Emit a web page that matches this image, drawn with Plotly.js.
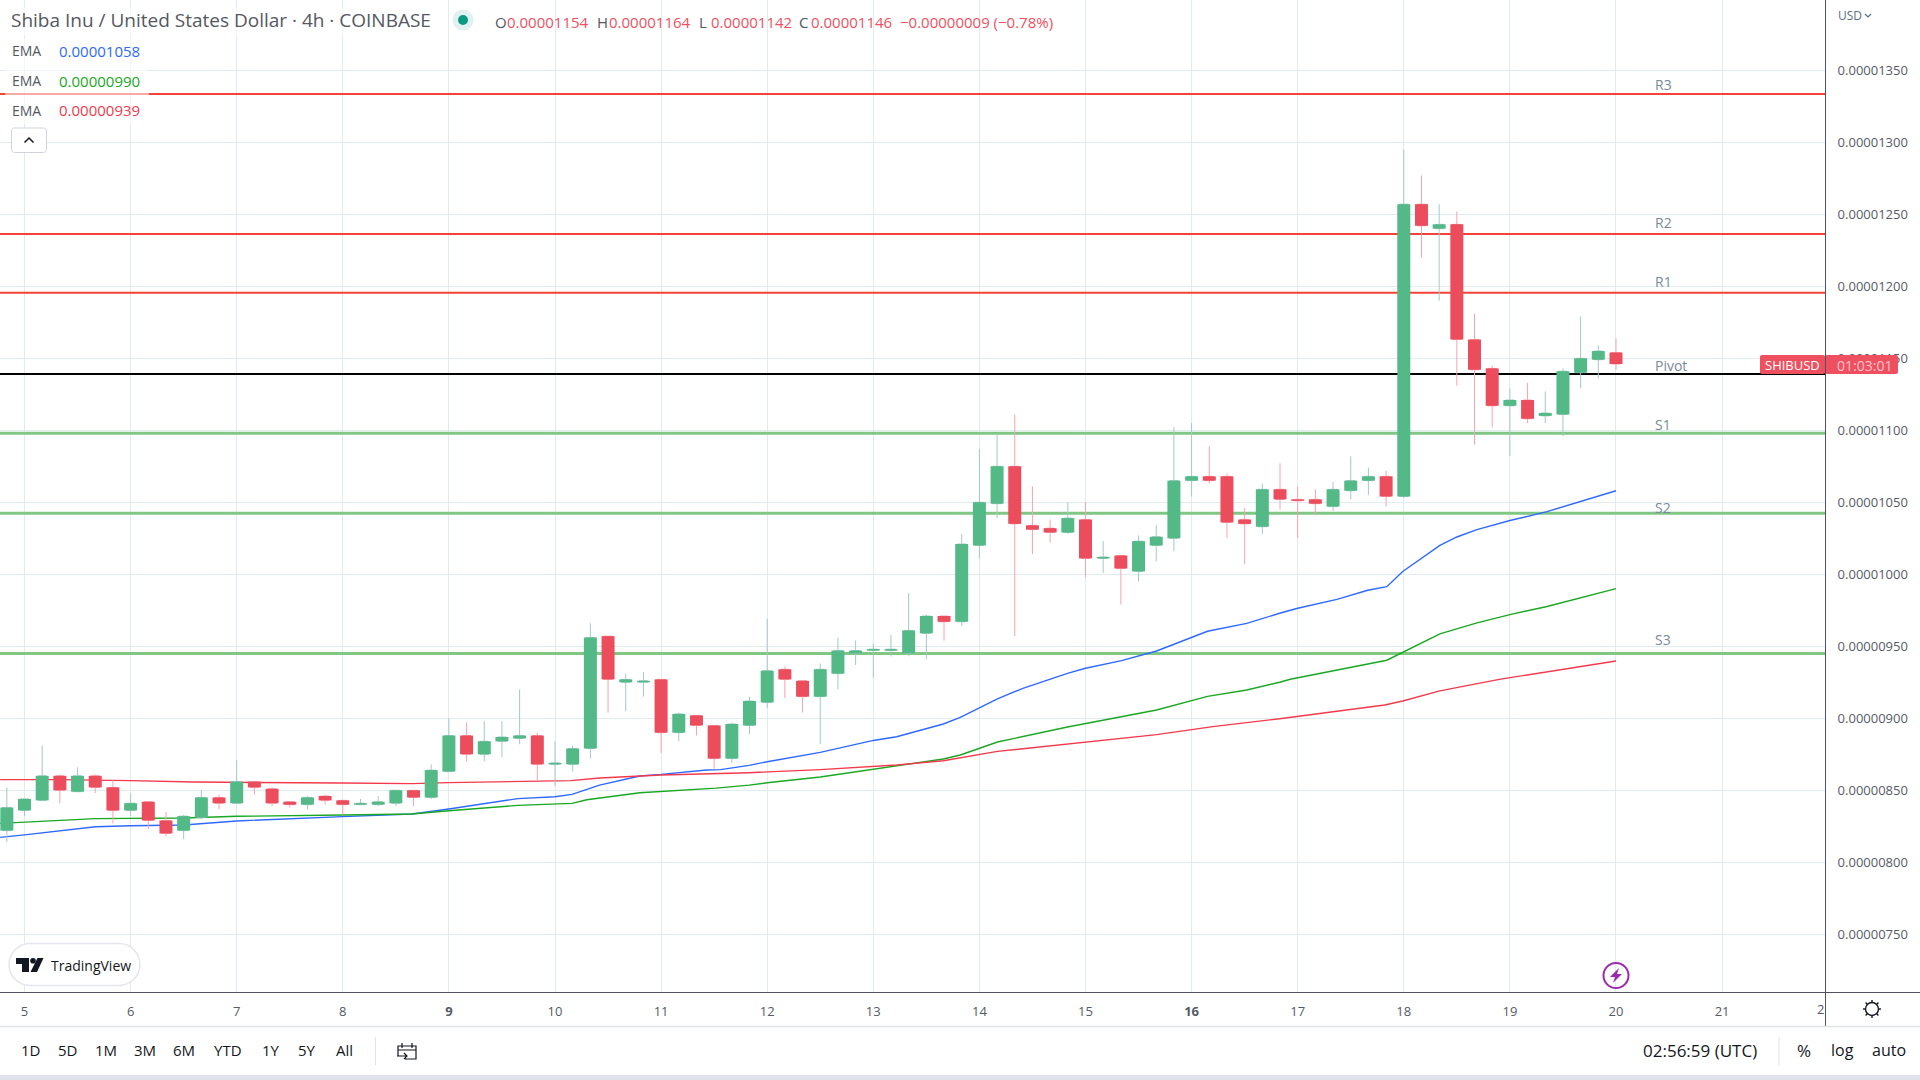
<!DOCTYPE html>
<html>
<head>
<meta charset="utf-8">
<script src="https://cdn.plot.ly/plotly-3.0.1.min.js"></script>
<style>html,body{margin:0;padding:0;background:#fff}#chart{width:1920px;height:1080px}</style>
</head>
<body>
<div id="chart"></div>
<script>
// prices are in units of 0.00000001 USD
const opens  = [822,836,843,860,849,860,852,836,842,829,822,831,845,841,856,851,842,840,846,843,840,840,841,850,845,863,888,875,884,886,888,868,868,879,957,925,925,927,890,902,895,872,895,911,934,926,915,931,945,947,947,945,959,971,967,1020,1049,1075,1034,1032,1029,1038,1011,1013,1002,1020,1025,1065,1068,1068,1038,1033,1059,1052,1052,1047,1058,1065,1068,1054,1257,1240,1243,1163,1143,1117,1121,1110,1111,1140,1149,1154];
const highs  = [852,844,881,861,866,861,857,848,842,835,833,850,847,871,856,852,842,846,847,843,844,846,850,850,868,900,897,898,898,920,890,884,881,966,957,931,932,927,904,902,895,897,915,969,936,926,938,956,954,952,958,987,972,971,1028,1087,1097,1111,1061,1038,1050,1050,1023,1013,1027,1034,1102,1105,1089,1070,1046,1063,1077,1061,1059,1064,1082,1074,1072,1295,1277,1257,1252,1181,1145,1129,1133,1127,1143,1179,1159,1164];
const lows   = [814,832,843,841,849,848,827,832,823,818,816,830,837,841,847,839,838,837,840,833,840,839,839,839,844,863,870,870,873,882,857,853,863,872,904,905,915,876,884,888,865,869,889,907,914,904,882,920,937,928,943,943,941,954,964,1011,1039,957,1014,1022,1028,998,1001,979,995,1009,1016,1054,1063,1025,1007,1028,1045,1025,1041,1044,1052,1055,1047,1053,1220,1190,1131,1090,1102,1082,1105,1105,1096,1129,1136,1142];
const closes = [838,844,860,850,860,852,836,841,829,820,832,845,841,856,852,841,840,845,843,840,841,842,850,845,864,888,875,884,887,888,868,869,879,956,927,927,926,890,903,895,872,896,912,933,927,915,934,947,947,948,948,961,971,967,1021,1050,1075,1035,1031,1029,1039,1011,1012,1004,1023,1026,1065,1068,1065,1036,1035,1059,1052,1051,1049,1059,1065,1068,1054,1257,1242,1243,1163,1142,1117,1121,1108,1112,1141,1150,1155,1146];
const firstDay = 4 + 5 / 6;          // first visible 4h candle
const barsPerDay = 6;

const emaBlueDays  = [4.77,5,5.67,6,6.5,7,8,8.65,9,9.65,10,10.16,10.42,10.8,11,11.43,11.56,11.83,12,12.33,12.5,13,13.22,13.66,13.82,14.17,14.41,14.83,15,15.34,15.67,16.15,16.52,16.83,17,17.37,17.66,17.84,17.99,18.34,18.5,18.69,19,19.35,20];
const emaBlue      = [817.3,819,824.7,825.4,825.9,828.7,831.7,833.5,837,844.2,845.5,847.1,853.6,859.9,861,864.1,864.3,867.3,869.8,874,876.3,884.6,887.2,896,900.6,913.4,920.8,931.2,934.7,940,946.7,960.4,965.9,972.9,976.4,982.6,988.9,991.4,1001.9,1020.1,1025.9,1031,1037.3,1043.5,1058];
const emaGreenDays = [4.77,5.67,6.5,7,8,8.65,9,9.65,10.16,10.3,10.8,11.52,11.83,12,12.5,13,13.66,13.82,14.17,14.83,15.34,15.67,16.15,16.52,16.83,16.93,17.84,17.99,18.34,18.69,19,19.35,20];
const emaGreen     = [827,830.3,830.7,831.9,832.8,833.5,835.8,839.5,840.9,843.4,848.3,851.5,853.6,855.2,859.2,864.7,871.7,874.5,883.5,893.9,900.9,905.7,915.2,919.6,925,927.1,940.3,945.8,958.6,966.2,972,977.6,990];
const emaRedDays   = [4.77,5.33,6,6.6,8,8.65,9,9.8,10.15,10.42,11,11.83,12.5,13.22,13.66,14.17,15,15.67,16.2,16.83,17.82,17.99,18.34,18.9,20];
const emaRed       = [857.4,857.4,856.7,855.7,855,854.6,855.3,856.5,856.7,858.5,860.6,862.2,864.3,867.5,870.5,877,883.7,888.6,894.2,899.7,909.2,912,919,927,939.8];

const levelNames  = ['R3','R2','R1','Pivot','S1','S2','S3'];
const levelValues = [1333.5,1236.3,1195.5,1139,1097.9,1042.3,945];
const levelColors = ['#f44336','#f44336','#f44336','#000000','#81c784','#81c784','#81c784'];
const levelWidths = [2,2,2,2,3,3,3];
const levelLabelY = [84,222.5,281.5,365.5,424,507,639.5];

const dayTicks  = [5,6,7,8,9,10,11,12,13,14,15,16,17,18,19,20,21];
const dayLabels = ['5','6','7','8','<b>9</b>','10','11','12','13','14','15','<b>16</b>','17','18','19','20','21'];
const rangeButtons = ['1D','5D','1M','3M','6M','YTD','1Y','5Y','All'];
const rangeButtonX = [30.6,67.8,106,145,184,228,270.6,307,344];
const emaLabels = ['0.00001058','0.00000990','0.00000939'];

const UNIT = 1e-8;
const toPrice = a => a.map(v => v * UNIT);
const days = opens.map((_, i) => firstDay + i / barsPerDay);

const PW = 1825, PH = 992;
const X = x => x / PW, Y = y => 1 - y / PH;
const PT = (x, y) => X(x).toFixed(6) + ',' + Y(y).toFixed(6);

const UP = '#53b987', DOWN = '#eb4d5c', UPW = '#a3c9c9', DOWNW = '#f8a3b0';
const TXT = '#131722', GREY = '#555b66';
const FONT = '"Open Sans", sans-serif';

const traces = [];
levelValues.forEach((v, i) => traces.push({
  type:'scatter', mode:'lines', x:[4.5, 22.5], y:[v*UNIT, v*UNIT], name:levelNames[i],
  line:{color:levelColors[i], width:levelWidths[i]}, hoverinfo:'skip', zorder:0, showlegend:false
}));
[[emaBlueDays,emaBlue,'#2e69ff'],[emaGreenDays,emaGreen,'#1aa722'],[emaRedDays,emaRed,'#f23a4c']].forEach(([dx,dy,c]) => traces.push({
  type:'scatter', mode:'lines', x:dx, y:toPrice(dy), name:'EMA',
  line:{color:c, width:1.4}, hoverinfo:'skip', zorder:1, showlegend:false
}));
traces.push({
  type:'candlestick', x:days, open:toPrice(opens), high:toPrice(highs), low:toPrice(lows), close:toPrice(closes),
  increasing:{line:{color:UPW,width:1}, fillcolor:UP}, decreasing:{line:{color:DOWNW,width:1}, fillcolor:DOWN},
  whiskerwidth:0, hoverinfo:'skip', zorder:2, showlegend:false
});
traces.push({
  type:'bar', x:days, base:toPrice(opens.map((o,i)=>Math.min(o,closes[i]))),
  y:toPrice(opens.map((o,i)=>Math.abs(closes[i]-o))), width:13/106.1,
  marker:{color:opens.map((o,i)=>closes[i]>=o?UP:DOWN), line:{width:0}},
  hoverinfo:'skip', zorder:3, showlegend:false
});

const ann = [];
function note(x, y, text, size, color, anchor, extra) {
  ann.push(Object.assign({xref:'paper', yref:'paper', x:X(x), y:Y(y), text, showarrow:false,
    xanchor:anchor||'left', yanchor:'middle', borderpad:0,
    font:{family:FONT, size:size, color:color}}, extra||{}));
}
const shapes = [];
function rect(x0,y0,x1,y1,fill,line,w){ shapes.push({type:'rect',xref:'paper',yref:'paper',layer:'above',
  x0:X(x0),x1:X(x1),y0:Y(y0),y1:Y(y1),fillcolor:fill||'rgba(0,0,0,0)',line:{color:line||'rgba(0,0,0,0)',width:line?(w||1):0}}); }
function seg(x0,y0,x1,y1,c,w){ shapes.push({type:'line',xref:'paper',yref:'paper',layer:'above',
  x0:X(x0),x1:X(x1),y0:Y(y0),y1:Y(y1),line:{color:c,width:w||1}}); }
function path(pts,fill,line,w){ shapes.push({type:'path',xref:'paper',yref:'paper',layer:'above',path:pts,
  fillcolor:fill||'rgba(0,0,0,0)',line:{color:line||'rgba(0,0,0,0)',width:line?(w||1):0}}); }
function circle(cx,cy,r,fill,line,w){ shapes.push({type:'circle',xref:'paper',yref:'paper',layer:'above',
  x0:X(cx-r),x1:X(cx+r),y0:Y(cy-r),y1:Y(cy+r),fillcolor:fill||'rgba(0,0,0,0)',line:{color:line||'rgba(0,0,0,0)',width:line?(w||1):0}}); }
function rrect(x0,y0,x1,y1,r,fill,line,w){
  const k=r*0.45;
  const d=`M${PT(x0+r,y0)} L${PT(x1-r,y0)} C${PT(x1-k,y0)} ${PT(x1,y0+k)} ${PT(x1,y0+r)} L${PT(x1,y1-r)} C${PT(x1,y1-k)} ${PT(x1-k,y1)} ${PT(x1-r,y1)} L${PT(x0+r,y1)} C${PT(x0+k,y1)} ${PT(x0,y1-k)} ${PT(x0,y1-r)} L${PT(x0,y0+r)} C${PT(x0,y0+k)} ${PT(x0+k,y0)} ${PT(x0+r,y0)} Z`;
  path(d,fill,line,w);
}

// translucent backing of the legend block
rect(5,8,442,36,'rgba(255,255,255,0.6)');
rect(5,38,149,124,'rgba(255,255,255,0.55)');

// header
note(10,20.5,'Shiba Inu / United States Dollar · 4h · COINBASE',19,'#55585f');
circle(463,20,10.5,'#e0f2ef');
circle(463,20,5,'#089981');
[[494,'O'],[596,'H'],[698,'L'],[798,'C']].forEach(([x,t])=>note(x,21.5,t,15,'#55585f'));
[[506,'0.00001154'],[608,'0.00001164'],[710,'0.00001142'],[810,'0.00001146'],[899,'−0.00000009 (−0.78%)']].forEach(([x,t])=>note(x,21.5,t,15,'#f0505f'));
// EMA legend
[50.5,80.5,110.5].forEach((y,i)=>{
  note(10.5,y,'EMA',14,'#55585f');
  note(57.5,y,emaLabels[i],15,['#2e69ff','#1aa722','#f23a4c'][i]);
});
rrect(11.5,128,46.5,152.5,3,'#ffffff','#d1d4dc',1);
path(`M${PT(24.5,142.5)} L${PT(29,138)} L${PT(33.5,142.5)}`,null,TXT,1.5);

// level labels
levelNames.forEach((n,i)=>note(1654,levelLabelY[i],n,14,'#7a8a98'));

// current price tags
rrect(1760,355,1825,374,2,'#ef5060');
rrect(1825,355,1898,374,2,'#ef5060');
note(1792,365,'SHIBUSD',13,'#ffffff','center');
note(1864,365,'01:03:01',14,'#fcc4cb','center');

// frame lines
rect(1826,993,1920,1026,'#ffffff');
seg(0,992.5,1920,992.5,'#50535e',1);
seg(1825.5,0,1825.5,1026,'#50535e',1);
seg(0,1026.5,1920,1026.5,'#e0e3eb',1.5);
rect(0,1075,1920,1080,'#e0e3eb');

// clipped next-day label at the price scale edge
note(1825,1009,'2',13,GREY,'right');

// TradingView badge
rrect(9,943.5,140,985.5,21,'#ffffff','#e4e6ec',1.5);
path(`M${PT(16,958)} L${PT(29,958)} L${PT(29,972)} L${PT(22,972)} L${PT(22,964)} L${PT(16,964)} Z`,TXT);
circle(33,960.7,2.8,TXT);
path(`M${PT(37.5,958)} L${PT(43.5,958)} L${PT(37,972)} L${PT(30.5,972)} Z`,TXT);
note(49.5,965,'TradingView',14,TXT);

// lightning marker
circle(1616,975.5,12.5,null,'#9c27b0',2);
path(`M${PT(1619,968)} L${PT(1610,977)} L${PT(1615,977)} L${PT(1613,983)} L${PT(1622,974)} L${PT(1617,974)} Z`,'#9c27b0');

// gear
circle(1872,1009,6.5,null,TXT,1.4);
[[1872,1000,1872,1002.5],[1872,1015.5,1872,1018],[1863,1009,1865.5,1009],[1878.5,1009,1881,1009],
 [1865.6,1002.6,1867.4,1004.4],[1876.6,1013.6,1878.4,1015.4],[1865.6,1015.4,1867.4,1013.6],[1876.6,1004.4,1878.4,1002.6]]
 .forEach(a=>seg(a[0],a[1],a[2],a[3],TXT,1.4));

// USD selector
note(1836.5,16,'USD',12,'#5a6f86');
path(`M${PT(1865,14)} L${PT(1868,17)} L${PT(1871,14)}`,null,'#5a6f86',1.2);

// bottom toolbar
rangeButtons.forEach((t,i)=>note(rangeButtonX[i],1050,t,15,TXT,'center'));
seg(375.5,1037,375.5,1065,'#e0e3eb',1);
seg(1779,1037,1779,1065,'#e0e3eb',1);
path(`M${PT(398,1056)} L${PT(398,1046)} L${PT(416,1046)} L${PT(416,1059)} L${PT(405,1059)} M${PT(398,1050)} L${PT(416,1050)} M${PT(402,1043)} L${PT(402,1048)} M${PT(412,1043)} L${PT(412,1048)} M${PT(397,1056)} L${PT(407,1056)} M${PT(404,1053)} L${PT(407,1056)} L${PT(404,1059)}`,null,TXT,1.2);
note(1700,1050,'02:56:59 (UTC)',17,TXT,'center');
note(1804,1050,'%',17,TXT,'center');
note(1842,1050,'log',16,TXT,'center');
note(1889,1050,'auto',16,TXT,'center');

const layout = {
  width:1920, height:1080, margin:{l:0,r:95,t:0,b:88,pad:0},
  paper_bgcolor:'#ffffff', plot_bgcolor:'#ffffff', showlegend:false,
  barmode:'overlay', dragmode:false,
  xaxis:{type:'linear', range:[4.769,21.970], tickmode:'array', tickvals:dayTicks, ticktext:dayLabels,
    showgrid:true, gridcolor:'#e1ecf2', gridwidth:1, zeroline:false, showline:false,
    ticks:'outside', ticklen:7, tickcolor:'rgba(0,0,0,0)', tickfont:{family:FONT,size:13,color:GREY},
    rangeslider:{visible:false}, fixedrange:true},
  yaxis:{type:'linear', side:'right', range:[709.9*UNIT,1398.8*UNIT], dtick:50*UNIT, tick0:0, tickformat:'.8f',
    showgrid:true, gridcolor:'#e1ecf2', gridwidth:1, zeroline:false, showline:false,
    ticks:'outside', ticklen:9, tickcolor:'rgba(0,0,0,0)', tickfont:{family:FONT,size:13,color:GREY}, fixedrange:true},
  annotations:ann, shapes:shapes
};
Plotly.newPlot('chart', traces, layout, {displayModeBar:false, staticPlot:true});
</script>
</body>
</html>
